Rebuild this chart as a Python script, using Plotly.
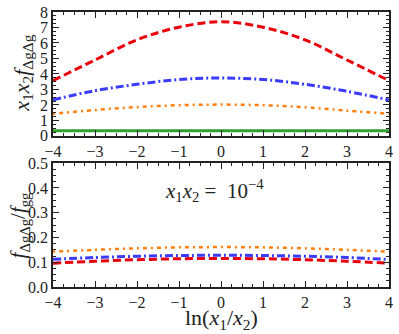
import plotly.graph_objects as go
from plotly.subplots import make_subplots

x_vals = [-4, -3, -2, -1, 0, 1, 2, 3, 4]

# top panel: x1 x2 f_{ΔgΔg}
top_red = [3.57, 4.9, 6.2, 7.02, 7.37, 7.02, 6.2, 4.9, 3.57]
top_blue = [2.33, 2.92, 3.33, 3.64, 3.74, 3.64, 3.33, 2.88, 2.32]
top_orange = [1.43, 1.67, 1.86, 1.98, 2.02, 1.98, 1.85, 1.63, 1.43]
top_green = [0.33, 0.33, 0.33, 0.33, 0.33, 0.33, 0.33, 0.33, 0.33]

# bottom panel: f_{ΔgΔg}/f_gg
bot_red = [0.096, 0.104, 0.110, 0.114, 0.115, 0.114, 0.110, 0.104, 0.096]
bot_blue = [0.112, 0.119, 0.124, 0.127, 0.128, 0.127, 0.124, 0.119, 0.111]
bot_orange = [0.143, 0.150, 0.156, 0.160, 0.161, 0.160, 0.156, 0.150, 0.143]

top_ticks = [0, 1, 2, 3, 4, 5, 6, 7, 8]
bot_ticks = [0.0, 0.1, 0.2, 0.3, 0.4, 0.5]
x_ticks = [-4, -3, -2, -1, 0, 1, 2, 3, 4]

FONT = "Liberation Serif"
RED = "#e8000b"
BLUE = "#3b3bff"
ORANGE = "#ff7f0e"
GREEN = "#2ca02c"
INK = "#222"

fig = make_subplots(rows=2, cols=1, vertical_spacing=0.099)

styles = [
    (RED, "8px,4px", 3),
    (BLUE, "8px,3px,2px,3px", 3),
    (ORANGE, "2px,4px,4px,4px", 2.5),
]
for ys, (c, d, w) in zip([top_red, top_blue, top_orange], styles):
    fig.add_trace(go.Scatter(x=x_vals, y=ys, mode="lines", line_shape="spline",
                             line=dict(color=c, dash=d, width=w), showlegend=False), row=1, col=1)
fig.add_trace(go.Scatter(x=x_vals, y=top_green, mode="lines",
                         line=dict(color=GREEN, width=3), showlegend=False), row=1, col=1)
for ys, (c, d, w) in zip([bot_red, bot_blue, bot_orange], styles):
    fig.add_trace(go.Scatter(x=x_vals, y=ys, mode="lines", line_shape="spline",
                             line=dict(color=c, dash=d, width=w), showlegend=False), row=2, col=1)

axis_common = dict(showline=True, linecolor=INK, linewidth=1.5, mirror="allticks",
                   ticks="inside", ticklen=6, tickwidth=1, tickcolor=INK,
                   showgrid=False, zeroline=False, automargin=False,
                   ticklabeloverflow="allow",
                   tickfont=dict(family=FONT, size=16, color=INK))

for r in (1, 2):
    fig.update_xaxes(range=[-4, 4], tickvals=x_ticks,
                     minor=dict(ticks="inside", dtick=0.25, ticklen=3, tickcolor=INK),
                     row=r, col=1, **axis_common)

fig.update_yaxes(range=[0, 8], tickvals=top_ticks,
                 minor=dict(ticks="inside", dtick=0.25, ticklen=3, tickcolor=INK),
                 row=1, col=1, **axis_common)
fig.update_yaxes(range=[0, 0.5], tickvals=bot_ticks, tickformat=".1f",
                 minor=dict(ticks="inside", dtick=0.025, ticklen=3, tickcolor=INK),
                 row=2, col=1, **axis_common)

title_font = dict(family=FONT, size=22, color=INK)
fig.add_annotation(x=-0.09, y=0.778, xref="paper", yref="paper",
                   xanchor="center", yanchor="middle",
                   text="<i>x</i><sub>1</sub><i>x</i><sub>2</sub><i>f</i><sub>ΔgΔg</sub>",
                   textangle=-90, showarrow=False, font=title_font)
fig.add_annotation(x=-0.1, y=0.2255, xref="paper", yref="paper",
                   xanchor="center", yanchor="middle",
                   text="<i>f</i><sub>ΔgΔg</sub>/<i>f</i><sub>gg</sub>",
                   textangle=-90, showarrow=False,
                   font=dict(family=FONT, size=21, color=INK))
fig.add_annotation(x=0.5, y=-0.115, xref="paper", yref="paper",
                   xanchor="center", yanchor="middle",
                   text="ln(<i>x</i><sub>1</sub>/<i>x</i><sub>2</sub>)",
                   showarrow=False, font=title_font)

fig.add_annotation(x=-0.15, y=0.39, xref="x2", yref="y2",
                   text="<i>x</i><sub>1</sub><i>x</i><sub>2</sub> =  10<sup>−4</sup>",
                   showarrow=False, font=dict(family=FONT, size=21, color=INK))

fig.update_layout(width=399, height=334,
                  margin=dict(l=53, r=10, t=12, b=47, autoexpand=False),
                  paper_bgcolor="white", plot_bgcolor="white")

fig.write_html("out.html", config={"displayModeBar": False},
               post_script="document.body.style.margin='0';")
